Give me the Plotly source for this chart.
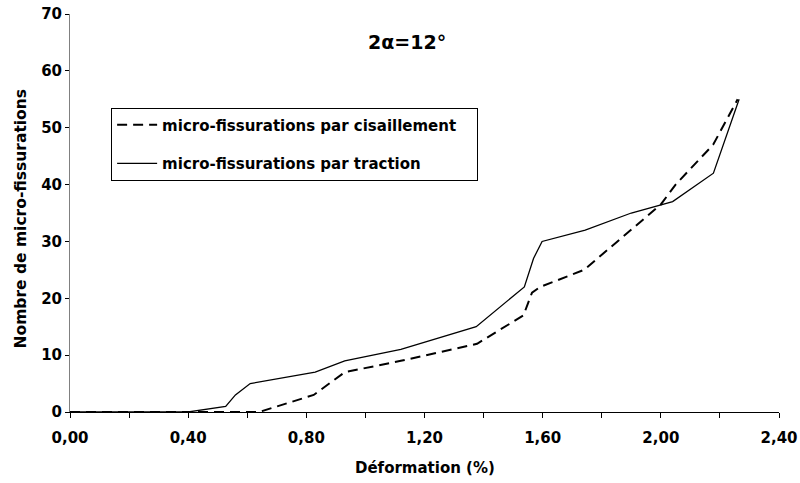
import plotly.graph_objects as go

# Data
deform_cis = [0.00, 0.40, 0.64, 0.825, 0.93, 1.12, 1.378, 1.535, 1.564, 1.592, 1.74, 2.00, 2.05, 2.177, 2.26]
micro_cis = [0, 0, 0, 3, 7, 9, 12, 17, 21, 22, 25, 36.5, 40, 47, 55]

deform_trac = [0.00, 0.40, 0.527, 0.56, 0.61, 0.83, 0.93, 1.12, 1.375, 1.538, 1.569, 1.598, 1.744, 1.90, 2.04, 2.178, 2.265]
micro_trac = [0, 0, 1, 3, 5, 7, 9, 11, 15, 22, 27, 30, 32, 35, 37, 42, 55]

x_ticks = [0.0, 0.4, 0.8, 1.2, 1.6, 2.0, 2.4]
y_ticks = [0, 10, 20, 30, 40, 50, 60, 70]

series_names = ["micro-fissurations par cisaillement", "micro-fissurations par traction"]

FONT = "DejaVu Sans, Verdana, sans-serif"
NB = "\u00a0" * 3

def f(size):
    return dict(family=FONT, size=size, color="black", weight="bold")

fig = go.Figure()
fig.add_trace(go.Scatter(
    x=deform_cis, y=micro_cis, mode="lines",
    name=series_names[0] + NB, legendgroup="a",
    line=dict(color="black", width=2, dash="10px,6px"),
))
fig.add_trace(go.Scatter(
    x=deform_trac, y=micro_trac, mode="lines",
    name=series_names[1] + NB, legendgroup="b",
    line=dict(color="black", width=1.3),
))

fig.update_layout(
    width=800, height=483,
    margin=dict(l=70, r=21, t=14, b=71, autoexpand=False),
    paper_bgcolor="white", plot_bgcolor="white",
    separators=", ",
    font=f(15),
    showlegend=True,
    legend=dict(
        x=0.058, y=0.765, xanchor="left", yanchor="top",
        bordercolor="black", borderwidth=1, bgcolor="white",
        font=f(15), tracegroupgap=16, itemwidth=40,
    ),
    annotations=[
        dict(text="2α=12°", x=0.475, y=0.93, xref="paper", yref="paper",
             xanchor="center", yanchor="middle", showarrow=False, font=f(19)),
        dict(text="Déformation (%)", x=0.5007, y=-0.1407, xref="paper", yref="paper",
             xanchor="center", yanchor="middle", showarrow=False, font=f(15)),
        dict(text="Nombre de micro-fissurations", x=-0.0698, y=0.485, xref="paper", yref="paper",
             xanchor="center", yanchor="middle", textangle=-90, showarrow=False, font=f(15.5)),
    ],
)

fig.update_xaxes(
    range=[0, 2.4], tickvals=x_ticks, tickformat=".2f",
    showgrid=False, zeroline=False, automargin=False,
    showline=True, linecolor="black", linewidth=1,
    ticks="outside", ticklen=5, tickcolor="black",
    minor=dict(dtick=0.2, tick0=0, ticks="outside", ticklen=5, tickcolor="black", showgrid=False),
    tickfont=f(15), ticklabelstandoff=7,
)
fig.update_yaxes(
    range=[0, 70], tickvals=y_ticks,
    showgrid=False, zeroline=False, automargin=False,
    showline=True, linecolor="#808080", linewidth=1,
    ticks="outside", ticklen=4, tickcolor="black",
    tickfont=f(15),
)

fig.write_html("out.html", config={"displayModeBar": False},
               post_script="document.body.style.margin='0';")
